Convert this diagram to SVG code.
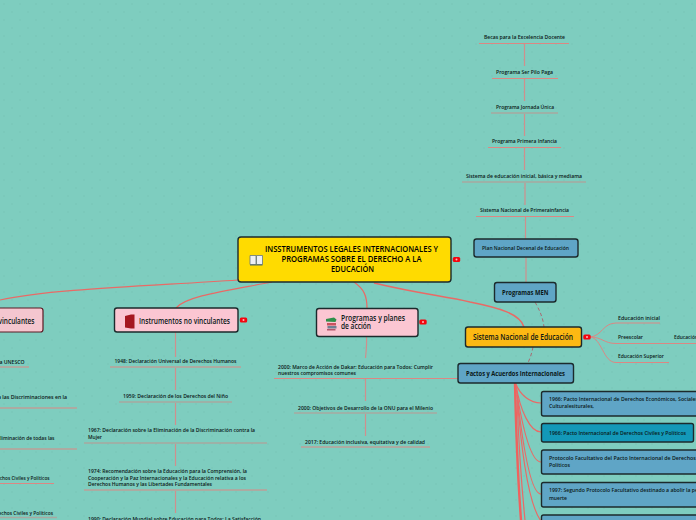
<svg xmlns="http://www.w3.org/2000/svg" width="696" height="520" viewBox="0 0 696 520">
<style>
text{font-family:"Open Sans","Liberation Sans",sans-serif;fill:#0a1716}
.s{font-size:5.6px;font-weight:600}
.m{font-size:7px;font-weight:700}
.h{font-size:8.6px;font-weight:600}
.t{font-size:9px;font-weight:600;fill:#000}
.n{stroke:#1c2a2c;stroke-width:1.4}
.b{fill:#5fa5c6}
.p{fill:#fbc6d2}
.c{fill:none;stroke:#dc8783;stroke-width:1}
.k{fill:none;stroke:#a8a8a0;stroke-width:1.4}
.g{fill:none;stroke:#cf8f8d;stroke-width:1.2}
.r{fill:none;stroke:#e96a66;stroke-width:1.2}
.w{fill:none;stroke:#ef625e;stroke-width:2.4}
.d{fill:none;stroke:#a86a72;stroke-width:1;stroke-dasharray:3.5 2.5}
.x{fill:#f4050f}
.y{fill:#ffb7bd}
</style>
<defs>
<pattern id="dots" width="16" height="16" patternUnits="userSpaceOnUse"><circle cx="4" cy="4" r=".8" fill="#76c4b6"/><circle cx="12" cy="12" r=".8" fill="#76c4b6"/></pattern>
<g id="badge"><rect x="-3.7" y="-2.5" width="7.4" height="5" rx="1.6" class="x"/><circle r="1" class="y"/></g>
</defs>
<rect width="696" height="520" fill="#7ecdbf"/>
<rect width="696" height="520" fill="url(#dots)"/>

<g id="connectors">
<path class="r" d="M238 280C150 286 50 289 0 300"/>
<path class="r" d="M272 282C225 291 186 296 176 308"/>
<path class="r" d="M354 282C364 289 367 296 367 308"/>
<path class="r" style="stroke-width:1.5" d="M374 283C420 294 445 296 470 302C500 308 520 314 524 327"/>
<path class="d" d="M535 302C540 311 543 318 544 327"/>
<path class="d" d="M533 347C532 353 530 358 528 363"/>
<path class="g" d="M175.500 332V357M175.500 368V390M175.500 403V425M175.500 444V466M175.500 491V513"/>
<path class="g" d="M366.500 337C367 345 366 352 365.500 358M365.500 379V401M365.500 414V436"/>
<path class="g" d="M524.500 44V66M524.500 79V101M524.500 114V136M524.500 148V170M525 183V205M525.500 217V239M526 257V282"/>
<path class="c" d="M110 367H241M84 490H267"/>
<path class="k" d="M119 402H232M84 443H267"/>
<path class="c" d="M0 367H29M0 408H77M0 449H77M0 483.500H54"/>
<path class="k" d="M0 517.500H57"/>
<path class="c" d="M274 378.500H458M301 447H430"/>
<path class="k" d="M294 413H437"/>
<path class="c" d="M479 43.500H569M492 78.500H558M488 147.500H561M476 216.500H574"/>
<path class="k" d="M491 113H558M462 182H586"/>
<path class="c" d="M590 337C602 336 603 323 616 323H660"/>
<path class="c" d="M590 337C602 337 604 343.500 616 343.500H696"/>
<path class="c" d="M590 337C602 338 603 362.500 616 362.500H669"/>
<path class="w" d="M515 383C516 430 518 480 521 520"/>
<path class="r" d="M515.500 383C520 395 530 403 541 403"/>
<path class="r" d="M516 385C520 410 530 432 541 432"/>
<path class="r" d="M516 388C522 425 530 462 541 462"/>
<path class="r" d="M516.500 390C522 440 530 494 541 494"/>
<path class="r" d="M517 395C522 460 530 515 545 525"/>
<path class="r" d="M517 400C519 450 522 490 525 520"/>
</g>

<g id="root">
<rect x="238" y="237" width="213" height="45" rx="3" class="n" fill="#ffdb00"/>
<g id="icon-book"><path d="M250 255.500h6v9h-6zM256.500 255.500h6v9h-6z" fill="#eef0f2" stroke="#66777f" stroke-width=".8"/><path d="M250 265h12.500" stroke="#4f6a6d"/></g>
<text class="t" x="265" y="252" textLength="173" lengthAdjust="spacingAndGlyphs">INSSTRUMENTOS LEGALES INTERNACIONALES Y</text>
<text class="t" x="281.500" y="262" textLength="140" lengthAdjust="spacingAndGlyphs">PROGRAMAS SOBRE EL DERECHO A LA</text>
<text class="t" x="331" y="271.500" textLength="43" lengthAdjust="spacingAndGlyphs">EDUCACIÓN</text>
<use href="#badge" x="456.500" y="259.500"/>
</g>

<g id="vinculantes">
<rect x="-40" y="308" width="83" height="24" rx="2.500" stroke="#5b1a24" stroke-width="1.2" fill="#f4c6cf"/>
<text class="h" x="34.500" y="323.500" text-anchor="end" textLength="36" lengthAdjust="spacingAndGlyphs">vinculantes</text>
</g>

<g id="no-vinculantes">
<rect x="114.500" y="308" width="123.500" height="24" rx="2.500" class="n p"/>
<path d="M125 316l6-1.500h3.500v14h-3.500l-6-1z" fill="#a5171f"/>
<text class="h" x="139" y="323.500" textLength="91" lengthAdjust="spacingAndGlyphs">Instrumentos no vinculantes</text>
<use href="#badge" x="243.500" y="320"/>
</g>

<g id="programas">
<rect x="316.500" y="308.500" width="101.500" height="28" rx="2.500" class="n p"/>
<path d="M326 319l8-1.500 2.500 2-1 2.500-9.500-.5z" fill="#2f8f4a"/><path d="M327 323h9v2.500h-9z" fill="#c9525f"/><path d="M327.500 326h9v2.500h-9z" fill="#6f7f93"/><path d="M327 329h8.500v1.500h-8.500z" fill="#b5566a"/>
<text class="h" x="341" y="320.500" textLength="64" lengthAdjust="spacingAndGlyphs">Programas y planes</text>
<text class="h" x="341" y="329" textLength="30" lengthAdjust="spacingAndGlyphs">de acción</text>
<use href="#badge" x="423" y="322"/>
</g>

<g id="sistema">
<rect x="465.500" y="327" width="116" height="20" rx="2.500" class="n" fill="#fdb913"/>
<text class="h" x="473" y="340" textLength="100" lengthAdjust="spacingAndGlyphs">Sistema Nacional de Educación</text>
<use href="#badge" x="587" y="337"/>
</g>
<g id="pactos">
<rect x="458" y="363.500" width="115.500" height="19.500" rx="2.500" class="n b"/>
<text class="m" x="466" y="376" textLength="99" lengthAdjust="spacingAndGlyphs">Pactos y Acuerdos Internacionales</text>
</g>
<g id="programas-men">
<rect x="494.500" y="282.500" width="61.500" height="19.500" rx="2.500" class="n b"/>
<text class="m" x="502" y="295" textLength="46.500" lengthAdjust="spacingAndGlyphs">Programas MEN</text>
</g>
<g id="plan-nacional">
<rect x="474" y="239" width="104" height="18" rx="2.500" class="n b"/>
<text class="s" x="482" y="250" textLength="87" lengthAdjust="spacingAndGlyphs">Plan Nacional Decenal de Educación</text>
</g>

<g id="pacto-1"><rect x="541.500" y="391.500" width="170" height="24.500" rx="2" class="n b"/>
<text class="s" x="549" y="401" textLength="149" lengthAdjust="spacingAndGlyphs">1966: Pacto Internacional de Derechos Económicos, Sociales</text>
<text class="s" x="549" y="408" textLength="45" lengthAdjust="spacingAndGlyphs">Culturalesiturales,</text></g>
<g id="pacto-2"><rect x="541.500" y="423.500" width="152" height="18.500" rx="2" class="n" fill="#1398b8"/>
<text class="s" x="549" y="434.500" textLength="137" lengthAdjust="spacingAndGlyphs">1966: Pacto Internacional de Derechos Civiles y Políticos</text></g>
<g id="pacto-3"><rect x="541.500" y="450" width="170" height="24" rx="2" class="n b"/>
<text class="s" x="549" y="460" textLength="153" lengthAdjust="spacingAndGlyphs">Protocolo Facultativo del Pacto Internacional de Derechos Ci</text>
<text class="s" x="549" y="466.500" textLength="21" lengthAdjust="spacingAndGlyphs">Políticos</text></g>
<g id="pacto-4"><rect x="541.500" y="482.500" width="170" height="24.500" rx="2" class="n b"/>
<text class="s" x="549" y="492" textLength="149" lengthAdjust="spacingAndGlyphs">1997: Segundo Protocolo Facultativo destinado a abolir la pe</text>
<text class="s" x="549" y="499.500" textLength="18" lengthAdjust="spacingAndGlyphs">muerte</text></g>
<g id="pacto-5"><rect x="541.500" y="515" width="170" height="24" rx="2" class="n b"/></g>

<g id="top-items">
<text class="s" x="484" y="38.500" textLength="81" lengthAdjust="spacingAndGlyphs">Becas para la Excelencia Docente</text>
<text class="s" x="496" y="73.500" textLength="57" lengthAdjust="spacingAndGlyphs">Programa Ser Pilo Paga</text>
<text class="s" x="496" y="108.500" textLength="58" lengthAdjust="spacingAndGlyphs">Programa Jornada Única</text>
<text class="s" x="492" y="142.500" textLength="65" lengthAdjust="spacingAndGlyphs">Programa Primera Infancia</text>
<text class="s" x="466" y="177.500" textLength="116" lengthAdjust="spacingAndGlyphs">Sistema de educación inicial, básica y mediama</text>
<text class="s" x="480" y="212" textLength="89" lengthAdjust="spacingAndGlyphs">Sistema Nacional de Primerainfancia</text>
</g>
<g id="right-items">
<text class="s" x="618" y="319.500" textLength="42" lengthAdjust="spacingAndGlyphs">Educación  inicial</text>
<text class="s" x="618" y="339" textLength="25" lengthAdjust="spacingAndGlyphs">Preescolar</text>
<text class="s" x="674" y="339" textLength="24" lengthAdjust="spacingAndGlyphs">Educación</text>
<text class="s" x="618" y="358" textLength="46" lengthAdjust="spacingAndGlyphs">Educación Superior</text>
</g>
<g id="no-vinculantes-items">
<text class="s" x="114.500" y="363" textLength="122" lengthAdjust="spacingAndGlyphs">1948: Declaración Universal de Derechos Humanos</text>
<text class="s" x="123" y="398" textLength="105" lengthAdjust="spacingAndGlyphs">1959: Declaración de los Derechos del Niño</text>
<text class="s" x="88" y="432" textLength="167" lengthAdjust="spacingAndGlyphs">1967: Declaración sobre la Eliminación de la Discriminación contra la</text>
<text class="s" x="88" y="439" textLength="14" lengthAdjust="spacingAndGlyphs">Mujer</text>
<text class="s" x="88" y="473" textLength="159" lengthAdjust="spacingAndGlyphs">1974: Recomendación sobre la Educación para la Comprensión, la</text>
<text class="s" x="88" y="480" textLength="158" lengthAdjust="spacingAndGlyphs">Cooperación y la Paz Internacionales y la Educación relativa a los</text>
<text class="s" x="88" y="486" textLength="124" lengthAdjust="spacingAndGlyphs">Derechos Humanos y las Libertades Fundamentales</text>
<text class="s" x="88" y="520.500" textLength="173" lengthAdjust="spacingAndGlyphs">1990: Declaración Mundial sobre Educación para Todos: La Satisfacción</text>
</g>
<g id="vinculantes-items">
<text class="s" x="-2" y="363.500" textLength="26.500" lengthAdjust="spacingAndGlyphs">la UNESCO</text>
<text class="s" x="-2" y="398.500" textLength="69" lengthAdjust="spacingAndGlyphs">a las Discriminaciones en la</text>
<text class="s" x="-2.500" y="439.500" textLength="57" lengthAdjust="spacingAndGlyphs">Eliminación de todas las</text>
<text class="s" x="-11" y="479.500" textLength="60.500" lengthAdjust="spacingAndGlyphs">Derechos Civiles y Políticos</text>
<text class="s" x="-10" y="514.500" textLength="63" lengthAdjust="spacingAndGlyphs">Derechos Civiles y Políticos</text>
</g>
<g id="programas-items">
<text class="s" x="278" y="368.500" textLength="155" lengthAdjust="spacingAndGlyphs">2000: Marco de Acción de Dakar: Educación para Todos: Cumplir</text>
<text class="s" x="278" y="374.500" textLength="78" lengthAdjust="spacingAndGlyphs">nuestros compromisos comunes</text>
<text class="s" x="298" y="409.500" textLength="135" lengthAdjust="spacingAndGlyphs">2000: Objetivos de Desarrollo de la ONU para el Milenio</text>
<text class="s" x="305" y="443.500" textLength="120" lengthAdjust="spacingAndGlyphs">2017: Educación inclusiva, equitativa y de calidad</text>
</g>
</svg>
